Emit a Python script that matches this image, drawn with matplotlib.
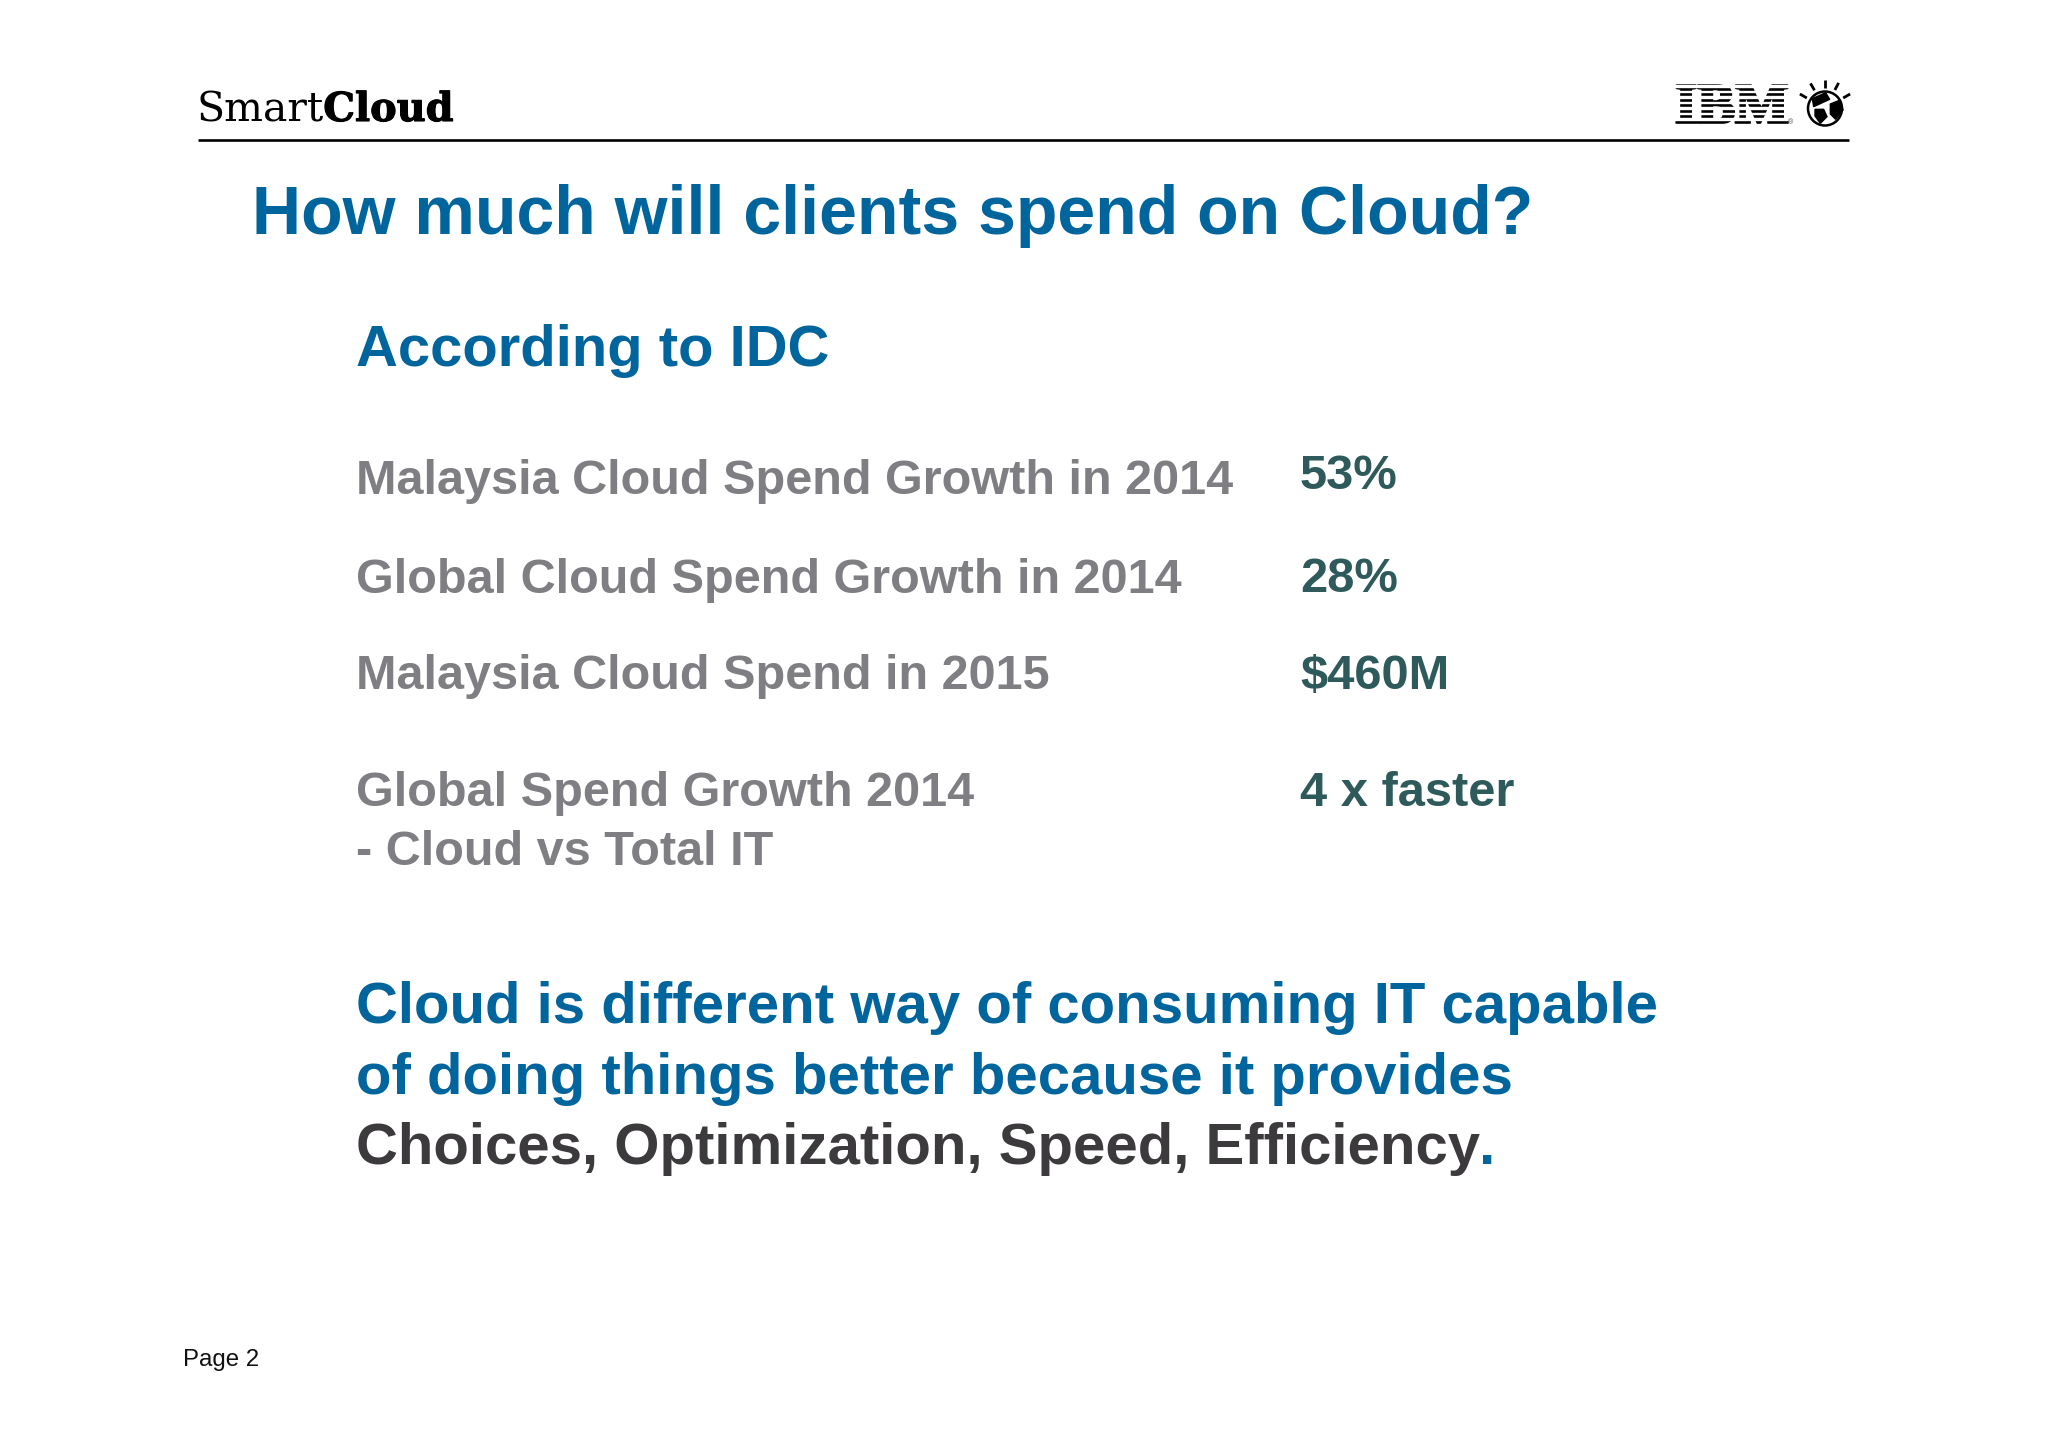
"""
Slide recreation: How much will clients spend on Cloud?
Figure is one full-bleed axes in pixel coordinates.
"""

import matplotlib
matplotlib.use("Agg")
import matplotlib.patheffects as pe
import matplotlib.pyplot as plt
import numpy as np
from matplotlib.patches import Circle, Polygon, Rectangle

plt.rcParams["font.family"] = ["Liberation Sans", "DejaVu Sans"]

W, H = 2048, 1447

BLUE = "#00659c"
GREY = "#7f7e82"
TEAL = "#2f5a5b"
DARK = "#3c3a3d"

TITLE = "How much will clients spend on Cloud?"
SUBTITLE = "According to IDC"
ROW_LABELS = [
    "Malaysia Cloud Spend Growth in 2014",
    "Global Cloud Spend Growth in 2014",
    "Malaysia Cloud Spend in 2015",
    "Global Spend Growth 2014",
    "- Cloud vs Total IT",
]
ROW_VALUES = ["53%", "28%", "$460M", "4 x faster"]
STATEMENT = [
    "Cloud is different way of consuming IT capable",
    "of doing things better because it provides",
]
STATEMENT_DARK = "Choices, Optimization, Speed, Efficiency"
PAGE = "Page 2"

LABEL_Y = [494, 593, 689, 806, 865]
VALUE_Y = [489, 592, 689, 806]

fig = plt.figure(figsize=(W / 100, H / 100), dpi=100, facecolor="white")
ax = fig.add_axes([0, 0, 1, 1])
ax.set_xlim(0, W)
ax.set_ylim(H, 0)
ax.axis("off")


def put(x, y, s, size, color, weight="bold", **kw):
    return ax.text(x, y, s, fontsize=size, color=color, fontweight=weight,
                   va="baseline", ha="left", **kw)


# header rule and SmartCloud wordmark
ax.plot([198, 1849], [139.5, 139.5], color="black", lw=1.9, solid_capstyle="butt")
t = put(197, 121, "Smart", 29.5, "black", weight="normal", family="DejaVu Serif")
fig.canvas.draw()
x_end = t.get_window_extent().x1
put(x_end - 1, 121, "Cloud", 28.7, "black", family="DejaVu Serif",
    path_effects=[pe.withStroke(linewidth=0.8, foreground="black")])

# IBM logo, striped letters
put(1675, 123, "IBM", 41, "black", family="Liberation Serif",
    path_effects=[pe.withStroke(linewidth=2.2, foreground="black")])
for y in np.arange(85, 124, 5.5):
    ax.add_patch(Rectangle((1670, y), 124, 1.8, color="white", zorder=3))
ax.text(1788, 124, "®", fontsize=5, color="#444444", va="baseline", zorder=4)

# smarter planet globe
cx, cy, r = 1825, 108.5, 17
ax.add_patch(Circle((cx, cy), r, facecolor="white", edgecolor="black", lw=1.8, zorder=3))
for blob in [
    [(52, 80), (92, 62), (104, 82), (82, 92), (56, 104)],
    [(60, 112), (86, 112), (96, 134), (76, 154), (60, 132)],
    [(106, 96), (136, 84), (144, 114), (122, 142), (106, 126)],
]:
    pts = [(1795 + zx / 3, 72 + zy / 3) for zx, zy in blob]
    ax.add_patch(Polygon(pts, closed=True, color="black", zorder=4))
for ang in [-150, -120, -90, -62, -30]:
    a = np.deg2rad(ang)
    ax.plot([cx + 21 * np.cos(a), cx + 29 * np.cos(a)],
            [cy + 21 * np.sin(a), cy + 29 * np.sin(a)],
            color="black", lw=2, solid_capstyle="butt")

# headings
put(252, 234, TITLE, 49, BLUE)
put(356.5, 366, SUBTITLE, 41.8, BLUE)

# figures table
for y, s in zip(LABEL_Y, ROW_LABELS):
    put(356.5, y, s, 35, GREY)
for y, s in zip(VALUE_Y, ROW_VALUES):
    put(1300, y, s, 35.2, TEAL)

# closing statement
put(356.5, 1023, STATEMENT[0], 41.9, BLUE)
put(356.5, 1094, STATEMENT[1], 41.9, BLUE)
t = put(356.5, 1164, STATEMENT_DARK, 41.9, DARK)
fig.canvas.draw()
put(t.get_window_extent().x1 - 2, 1164, ".", 41.9, BLUE)

put(183, 1366, PAGE, 17.3, "#111111", weight="normal")

fig.savefig("out.png", dpi=100)
